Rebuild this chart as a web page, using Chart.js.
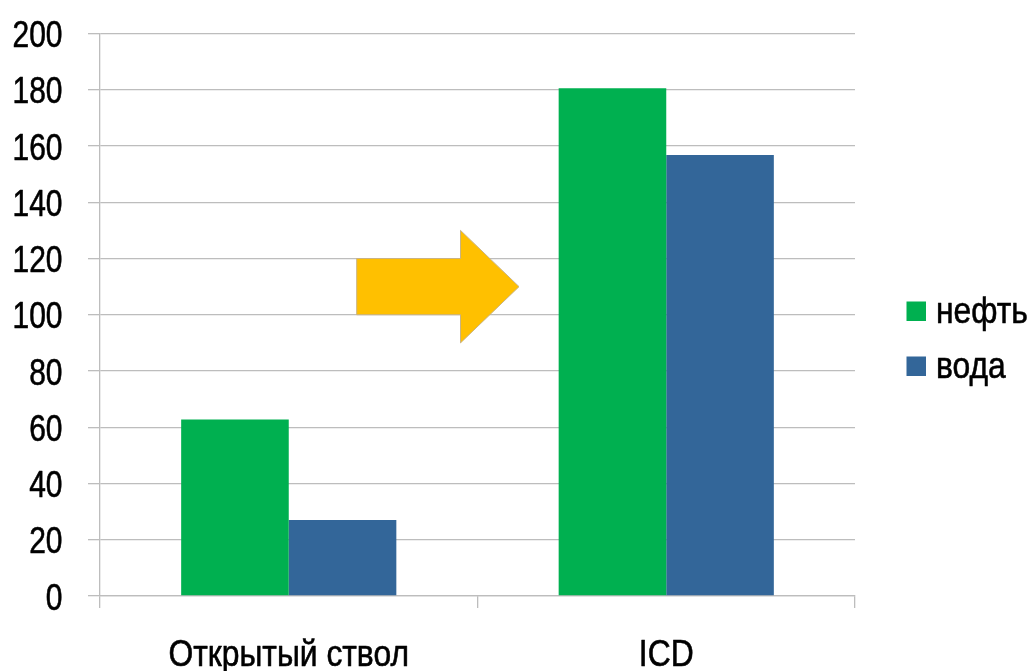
<!DOCTYPE html>
<html>
<head>
<meta charset="utf-8">
<script src="https://cdn.jsdelivr.net/npm/chart.js@4/dist/chart.umd.min.js"></script>
<style>
  html, body { margin: 0; padding: 0; background: #ffffff; }
  #wrap { width: 1032px; height: 671px; position: relative; }
</style>
</head>
<body>
<div id="wrap"><canvas id="chart" width="1032" height="671"></canvas></div>
<script>
// Categories and series
const categories = ['Открытый ствол', 'ICD'];
const seriesNames = ['нефть', 'вода'];
const oilValues = [62.8, 180.5];
const waterValues = [27, 156.8];
const yTicks = [0, 20, 40, 60, 80, 100, 120, 140, 160, 180, 200];

const FONT_FAMILY = "'Liberation Sans', Arial, sans-serif";
const GRID = '#bdbdbd';
const TEXT = '#000000';

// Narrow-style text: regular face squeezed horizontally, stems slightly thickened
function narrowText(ctx, text, x, y, size, squeeze, align) {
  ctx.save();
  ctx.translate(x, y);
  ctx.scale(squeeze, 1);
  ctx.font = size + 'px ' + FONT_FAMILY;
  ctx.fillStyle = TEXT;
  ctx.strokeStyle = TEXT;
  ctx.lineWidth = 0.6;
  ctx.lineJoin = 'round';
  ctx.textAlign = align;
  ctx.textBaseline = 'alphabetic';
  ctx.fillText(text, 0, 0);
  ctx.strokeText(text, 0, 0);
  ctx.restore();
}

// Axis labels and legend, drawn from the chart's own scales and datasets
const narrowLabels = {
  id: 'narrowLabels',
  afterDraw(chart) {
    const ctx = chart.ctx;
    const xs = chart.scales.x, ys = chart.scales.y;
    const area = chart.chartArea;

    ys.ticks.forEach(t => {
      narrowText(ctx, String(t.value), area.left - 37.5, ys.getPixelForValue(t.value) + 13.5, 37, 0.81, 'right');
    });

    xs.ticks.forEach((t, i) => {
      narrowText(ctx, chart.data.labels[t.value], xs.getPixelForTick(i), 665.5, 37, 0.86, 'center');
    });

    const boxX = area.right + 51.5;
    const firstTop = area.top + 268;
    chart.data.datasets.forEach((ds, i) => {
      const top = firstTop + i * 55;
      ctx.fillStyle = ds.backgroundColor;
      ctx.fillRect(boxX, top, 19.5, 19.5);
      narrowText(ctx, ds.label, boxX + 29.5, top + 21.5, 37, 0.86, 'left');
    });
  }
};

// Block arrow between the two groups, placed in scale units
// (x as fractional category index, y as axis value)
const arrowShape = {
  bodyLeft: 0.18, headStart: 0.455, tip: 0.61,
  bodyBottom: 100, bodyTop: 120, headBottom: 90, headTop: 130, tipY: 110
};

const arrowPlugin = {
  id: 'blockArrow',
  afterDatasetsDraw(chart) {
    const xs = chart.scales.x, ys = chart.scales.y;
    const x0 = xs.getPixelForValue(0), x1 = xs.getPixelForValue(1);
    const px = f => x0 + (x1 - x0) * f;
    const a = arrowShape;
    const ctx = chart.ctx;
    ctx.save();
    ctx.beginPath();
    ctx.moveTo(px(a.bodyLeft), ys.getPixelForValue(a.bodyTop));
    ctx.lineTo(px(a.headStart), ys.getPixelForValue(a.bodyTop));
    ctx.lineTo(px(a.headStart), ys.getPixelForValue(a.headTop));
    ctx.lineTo(px(a.tip), ys.getPixelForValue(a.tipY));
    ctx.lineTo(px(a.headStart), ys.getPixelForValue(a.headBottom));
    ctx.lineTo(px(a.headStart), ys.getPixelForValue(a.bodyBottom));
    ctx.lineTo(px(a.bodyLeft), ys.getPixelForValue(a.bodyBottom));
    ctx.closePath();
    ctx.fillStyle = '#FFC000';
    ctx.fill();
    ctx.lineWidth = 1;
    ctx.strokeStyle = '#c9b383';
    ctx.stroke();
    ctx.restore();
  }
};

new Chart(document.getElementById('chart'), {
  type: 'bar',
  data: {
    labels: categories,
    datasets: [
      { label: seriesNames[0], data: oilValues, backgroundColor: '#00B050' },
      { label: seriesNames[1], data: waterValues, backgroundColor: '#336699' }
    ]
  },
  options: {
    responsive: false,
    animation: false,
    devicePixelRatio: 1,
    layout: { padding: { left: 0, right: 177, top: 33.5, bottom: 0 } },
    datasets: { bar: { barPercentage: 1, categoryPercentage: 0.57 } },
    plugins: {
      legend: { display: false },
      tooltip: { enabled: false }
    },
    scales: {
      x: {
        offset: true,
        afterFit(scale) { scale.height = 75; },
        grid: { display: true, drawOnChartArea: false, drawTicks: true, tickLength: 12, color: GRID, lineWidth: 1.3, offset: true },
        border: { display: true, color: GRID, width: 1.3 },
        ticks: { display: false }
      },
      y: {
        min: 0,
        max: 200,
        afterBuildTicks(scale) { scale.ticks = yTicks.map(v => ({ value: v })); },
        afterFit(scale) { scale.width = 100; },
        grid: { drawOnChartArea: true, drawTicks: true, tickLength: 12, color: GRID, lineWidth: 1.3 },
        border: { display: true, color: GRID, width: 1.3 },
        ticks: { display: false }
      }
    }
  },
  plugins: [arrowPlugin, narrowLabels]
});
</script>
</body>
</html>
